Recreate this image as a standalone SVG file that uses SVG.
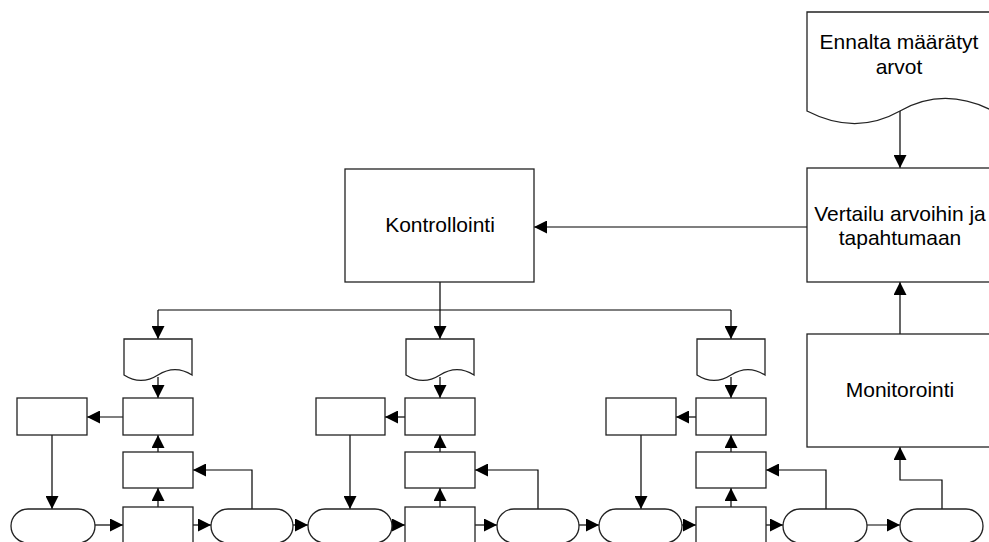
<svg xmlns="http://www.w3.org/2000/svg" width="989" height="542" viewBox="0 0 989 542">
<defs>
<marker id="ah" markerWidth="13" markerHeight="13" refX="13" refY="6.5" orient="auto" markerUnits="userSpaceOnUse">
<path d="M0,0 L13,6.5 L0,13 Z" fill="#000"/>
</marker>
<style>
.s{fill:#fff;stroke:#222;stroke-width:1.3}
.c{fill:none;stroke:#000;stroke-width:1.2;marker-end:url(#ah)}
.l{fill:none;stroke:#000;stroke-width:1.2}
.t{font-family:"Liberation Sans",Arial,sans-serif;font-size:21px;fill:#000;text-anchor:middle}
</style>
</defs>
<rect width="989" height="542" fill="#fff"/>
<g id="connectors">
<path class="c" d="M900,111 V168"/>
<path class="c" d="M807,227 H534"/>
<path class="l" d="M440,282 V310 M158,310 H731"/>
<path class="c" d="M158,310 V339"/>
<path class="c" d="M440,310 V339"/>
<path class="c" d="M731,310 V339"/>
<path class="c" d="M900,334 V282"/>
<path class="c" d="M942,509 V480 H900 V447"/>
<!-- column A -->
<path class="c" d="M158,377 V398"/>
<path class="c" d="M123,417 H87"/>
<path class="c" d="M52,435 V509"/>
<path class="c" d="M95,525 H123"/>
<path class="c" d="M158,507 V488"/>
<path class="c" d="M158,452 V435"/>
<path class="c" d="M193,525 H211"/>
<path class="c" d="M252,509 V470 H193"/>
<path class="c" d="M293,525 H308"/>
<!-- column B -->
<path class="c" d="M440,377 V398"/>
<path class="c" d="M405,417 H385"/>
<path class="c" d="M350,435 V509"/>
<path class="c" d="M392,525 H405"/>
<path class="c" d="M440,507 V488"/>
<path class="c" d="M440,452 V435"/>
<path class="c" d="M475,525 H497"/>
<path class="c" d="M538,509 V470 H475"/>
<path class="c" d="M579,525 H599"/>
<!-- column C -->
<path class="c" d="M731,377 V398"/>
<path class="c" d="M696,417 H676"/>
<path class="c" d="M641,435 V509"/>
<path class="c" d="M682,525 H696"/>
<path class="c" d="M731,507 V488"/>
<path class="c" d="M731,452 V435"/>
<path class="c" d="M766,525 H783"/>
<path class="c" d="M826,509 V470 H766"/>
<path class="c" d="M867,525 H900"/>
</g>
<g id="ennalta">
<path class="s" d="M807,12 H993 V111 C960,94 930,94 900,111 C870,128 840,128 807,111 Z"/>
<text class="t" x="899" y="49">Ennalta määrätyt</text>
<text class="t" x="899" y="74">arvot</text>
</g>
<g id="vertailu">
<rect class="s" x="807" y="168" width="186" height="114"/>
<text class="t" x="900" y="221">Vertailu arvoihin ja</text>
<text class="t" x="900" y="245">tapahtumaan</text>
</g>
<g id="kontrollointi">
<rect class="s" x="345" y="169" width="189" height="113"/>
<text class="t" x="440" y="232">Kontrollointi</text>
</g>
<g id="monitorointi">
<rect class="s" x="807" y="334" width="186" height="113"/>
<text class="t" x="900" y="397">Monitorointi</text>
</g>
<g id="docA"><path class="s" d="M124,339 H192 V375 C181,368 169,368 158,375 C147,382 135,382 124,375 Z"/></g>
<g id="docB"><path class="s" d="M406,339 H474 V375 C463,368 451,368 440,375 C429,382 417,382 406,375 Z"/></g>
<g id="docC"><path class="s" d="M697,339 H765 V375 C754,368 742,368 731,375 C720,382 708,382 697,375 Z"/></g>
<g id="a1"><rect class="s" x="123" y="398" width="70" height="37"/></g>
<g id="a2"><rect class="s" x="123" y="452" width="70" height="36"/></g>
<g id="a3"><rect class="s" x="123" y="507" width="70" height="40"/></g>
<g id="aL"><rect class="s" x="17" y="398" width="70" height="37"/></g>
<g id="aT1"><rect class="s" x="11" y="509" width="84" height="34" rx="17"/></g>
<g id="aT2"><rect class="s" x="211" y="509" width="82" height="34" rx="17"/></g>
<g id="b1"><rect class="s" x="405" y="398" width="70" height="37"/></g>
<g id="b2"><rect class="s" x="405" y="452" width="70" height="36"/></g>
<g id="b3"><rect class="s" x="405" y="507" width="70" height="40"/></g>
<g id="bL"><rect class="s" x="316" y="398" width="69" height="37"/></g>
<g id="bT1"><rect class="s" x="308" y="509" width="84" height="34" rx="17"/></g>
<g id="bT2"><rect class="s" x="497" y="509" width="82" height="34" rx="17"/></g>
<g id="c1"><rect class="s" x="696" y="398" width="70" height="37"/></g>
<g id="c2"><rect class="s" x="696" y="452" width="70" height="36"/></g>
<g id="c3"><rect class="s" x="696" y="507" width="70" height="40"/></g>
<g id="cL"><rect class="s" x="606" y="398" width="70" height="37"/></g>
<g id="cT1"><rect class="s" x="599" y="509" width="83" height="34" rx="17"/></g>
<g id="cT2"><rect class="s" x="783" y="509" width="84" height="34" rx="17"/></g>
<g id="dT"><rect class="s" x="900" y="509" width="83" height="34" rx="17"/></g>
</svg>
